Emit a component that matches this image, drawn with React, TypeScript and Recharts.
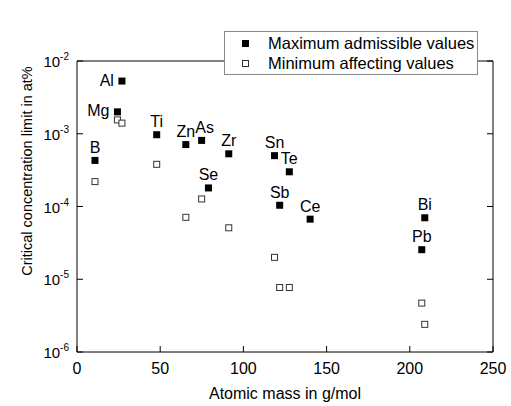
import React from "react";
import {
  Legend,
  Scatter,
  ScatterChart,
  XAxis,
  YAxis,
} from "recharts";

const elements = ["B", "Mg", "Al", "Ti", "Zn", "As", "Se", "Zr", "Sn", "Sb", "Te", "Ce", "Pb", "Bi"];
const atomicMass = [10.8, 24.3, 27.0, 47.9, 65.4, 74.9, 79.0, 91.2, 118.7, 121.8, 127.6, 140.1, 207.2, 209.0];
const maxAdmissible = [4.3e-4, 2.0e-3, 5.3e-3, 9.7e-4, 7.1e-4, 8.1e-4, 1.8e-4, 5.3e-4, 5.0e-4, 1.04e-4, 3.0e-4, 6.7e-5, 2.55e-5, 7.0e-5];
const minAffecting: (number | null)[] = [2.2e-4, 1.55e-3, 1.4e-3, 3.8e-4, 7.1e-5, 1.27e-4, null, 5.1e-5, 2.0e-5, 7.7e-6, 7.7e-6, null, 4.7e-6, 2.4e-6];

const xTicks = [0, 50, 100, 150, 200, 250];
const yTicks = [1e-6, 1e-5, 1e-4, 1e-3, 1e-2];

const FONT = '"Liberation Sans", Arial, sans-serif';
const leftLabeled = new Set(["Al", "Mg"]);
const labelNudge: Record<string, number> = { As: 3 };

const maxData = elements.map((name, i) => ({ name, x: atomicMass[i], y: maxAdmissible[i] }));
const minData = elements
  .map((name, i) => ({ name, x: atomicMass[i], y: minAffecting[i] }))
  .filter((d) => d.y !== null);

const FilledSquare = (props: any) => {
  const { cx, cy, payload } = props;
  const name = payload?.name;
  const left = leftLabeled.has(name);
  return (
    <g>
      <rect x={cx - 3.5} y={cy - 3.5} width={7} height={7} fill="#000" />
      <text
        x={left ? cx - 8 : cx + (labelNudge[name] ?? 0)}
        y={left ? cy + 4.5 : cy - 7.5}
        textAnchor={left ? "end" : "middle"}
        fontSize={16}
        fontFamily={FONT}
        fill="#000"
      >
        {name}
      </text>
    </g>
  );
};

const OpenSquare = (props: any) => {
  const { cx, cy } = props;
  return <rect x={cx - 3} y={cy - 3} width={6} height={6} fill="#fff" stroke="#333" strokeWidth={1} />;
};

const BottomTick = (props: any) => {
  const { x, y, payload } = props;
  return (
    <g>
      <path d={`M${x},${y}V${y - 6}`} stroke="#000" strokeWidth={1} fill="none" />
      <text x={x} y={y + 22} textAnchor="middle" fontSize={16} fontFamily={FONT} fill="#000">
        {payload.value}
      </text>
    </g>
  );
};

const TopTick = (props: any) => {
  const { x, y } = props;
  return <path d={`M${x},${y}V${y + 6}`} stroke="#000" strokeWidth={1} fill="none" />;
};

const LeftTick = (props: any) => {
  const { x, y, payload } = props;
  const exp = Math.round(Math.log10(payload.value));
  return (
    <g>
      <path d={`M${x},${y}H${x + 6}`} stroke="#000" strokeWidth={1} fill="none" />
      <text x={x - 8} y={y + 6} textAnchor="end" fontSize={15} fontFamily={FONT} fill="#000">
        <tspan>10</tspan>
        <tspan dy={-7} fontSize={10}>{exp}</tspan>
      </text>
    </g>
  );
};

const RightTick = (props: any) => {
  const { x, y } = props;
  return <path d={`M${x},${y}H${x - 6}`} stroke="#000" strokeWidth={1} fill="none" />;
};

const LegendBox = () => (
  <div
    style={{
      border: "1px solid #888",
      padding: "1px 0",
      fontFamily: FONT,
      fontSize: 16.5,
      lineHeight: "20px",
      color: "#000",
      background: "#fff",
    }}
  >
    <div style={{ display: "flex", alignItems: "center", height: 20 }}>
      <span style={{ display: "inline-block", width: 7, height: 7, background: "#000", marginLeft: 17, marginRight: 19 }} />
      <span>Maximum admissible values</span>
    </div>
    <div style={{ display: "flex", alignItems: "center", height: 20 }}>
      <span
        style={{
          display: "inline-block",
          width: 5,
          height: 5,
          border: "1px solid #333",
          background: "#fff",
          marginLeft: 17,
          marginRight: 19,
        }}
      />
      <span>Minimum affecting values</span>
    </div>
  </div>
);

export default function App() {
  return (
    <div style={{ position: "absolute", left: 0, top: 0, width: 511, height: 406, background: "#fff" }}>
      <ScatterChart width={511} height={406} margin={{ top: 16, right: 17, bottom: 24, left: 0 }}>
        <XAxis
          type="number"
          dataKey="x"
          domain={[0, 250]}
          ticks={xTicks}
          allowDataOverflow
          height={30}
          stroke="#000"
          tickLine={false}
          tickSize={0}
          tickMargin={0}
          tick={<BottomTick />}
          label={{
            content: () => (
              <text x={285} y={399} textAnchor="middle" fontSize={16} fontFamily={FONT} fill="#000">
                Atomic mass in g/mol
              </text>
            ),
          }}
        />
        <XAxis
          xAxisId="top"
          orientation="top"
          type="number"
          domain={[0, 250]}
          ticks={xTicks}
          allowDataOverflow
          height={1}
          stroke="#000"
          tickLine={false}
          tickSize={0}
          tickMargin={0}
          tick={<TopTick />}
        />
        <YAxis
          type="number"
          dataKey="y"
          scale="log"
          domain={[1e-6, 1e-2]}
          ticks={yTicks}
          allowDataOverflow
          width={77}
          stroke="#000"
          tickLine={false}
          tickSize={0}
          tickMargin={0}
          tick={<LeftTick />}
          label={{
            content: () => (
              <text
                x={31.5}
                y={171}
                transform="rotate(-90 31.5 171)"
                textAnchor="middle"
                fontSize={14.5}
                fontFamily={FONT}
                fill="#000"
              >
                Critical concentration limit in at%
              </text>
            ),
          }}
        />
        <YAxis
          yAxisId="right"
          orientation="right"
          type="number"
          scale="log"
          domain={[1e-6, 1e-2]}
          ticks={yTicks}
          allowDataOverflow
          width={1}
          stroke="#000"
          tickLine={false}
          tickSize={0}
          tickMargin={0}
          tick={<RightTick />}
        />
        <Legend
          verticalAlign="top"
          align="left"
          wrapperStyle={{ top: 31, left: 224, width: 254 }}
          content={<LegendBox />}
        />
        <Scatter name="Minimum affecting values" data={minData} shape={<OpenSquare />} isAnimationActive={false} />
        <Scatter name="Maximum admissible values" data={maxData} shape={<FilledSquare />} isAnimationActive={false} />
      </ScatterChart>
    </div>
  );
}
